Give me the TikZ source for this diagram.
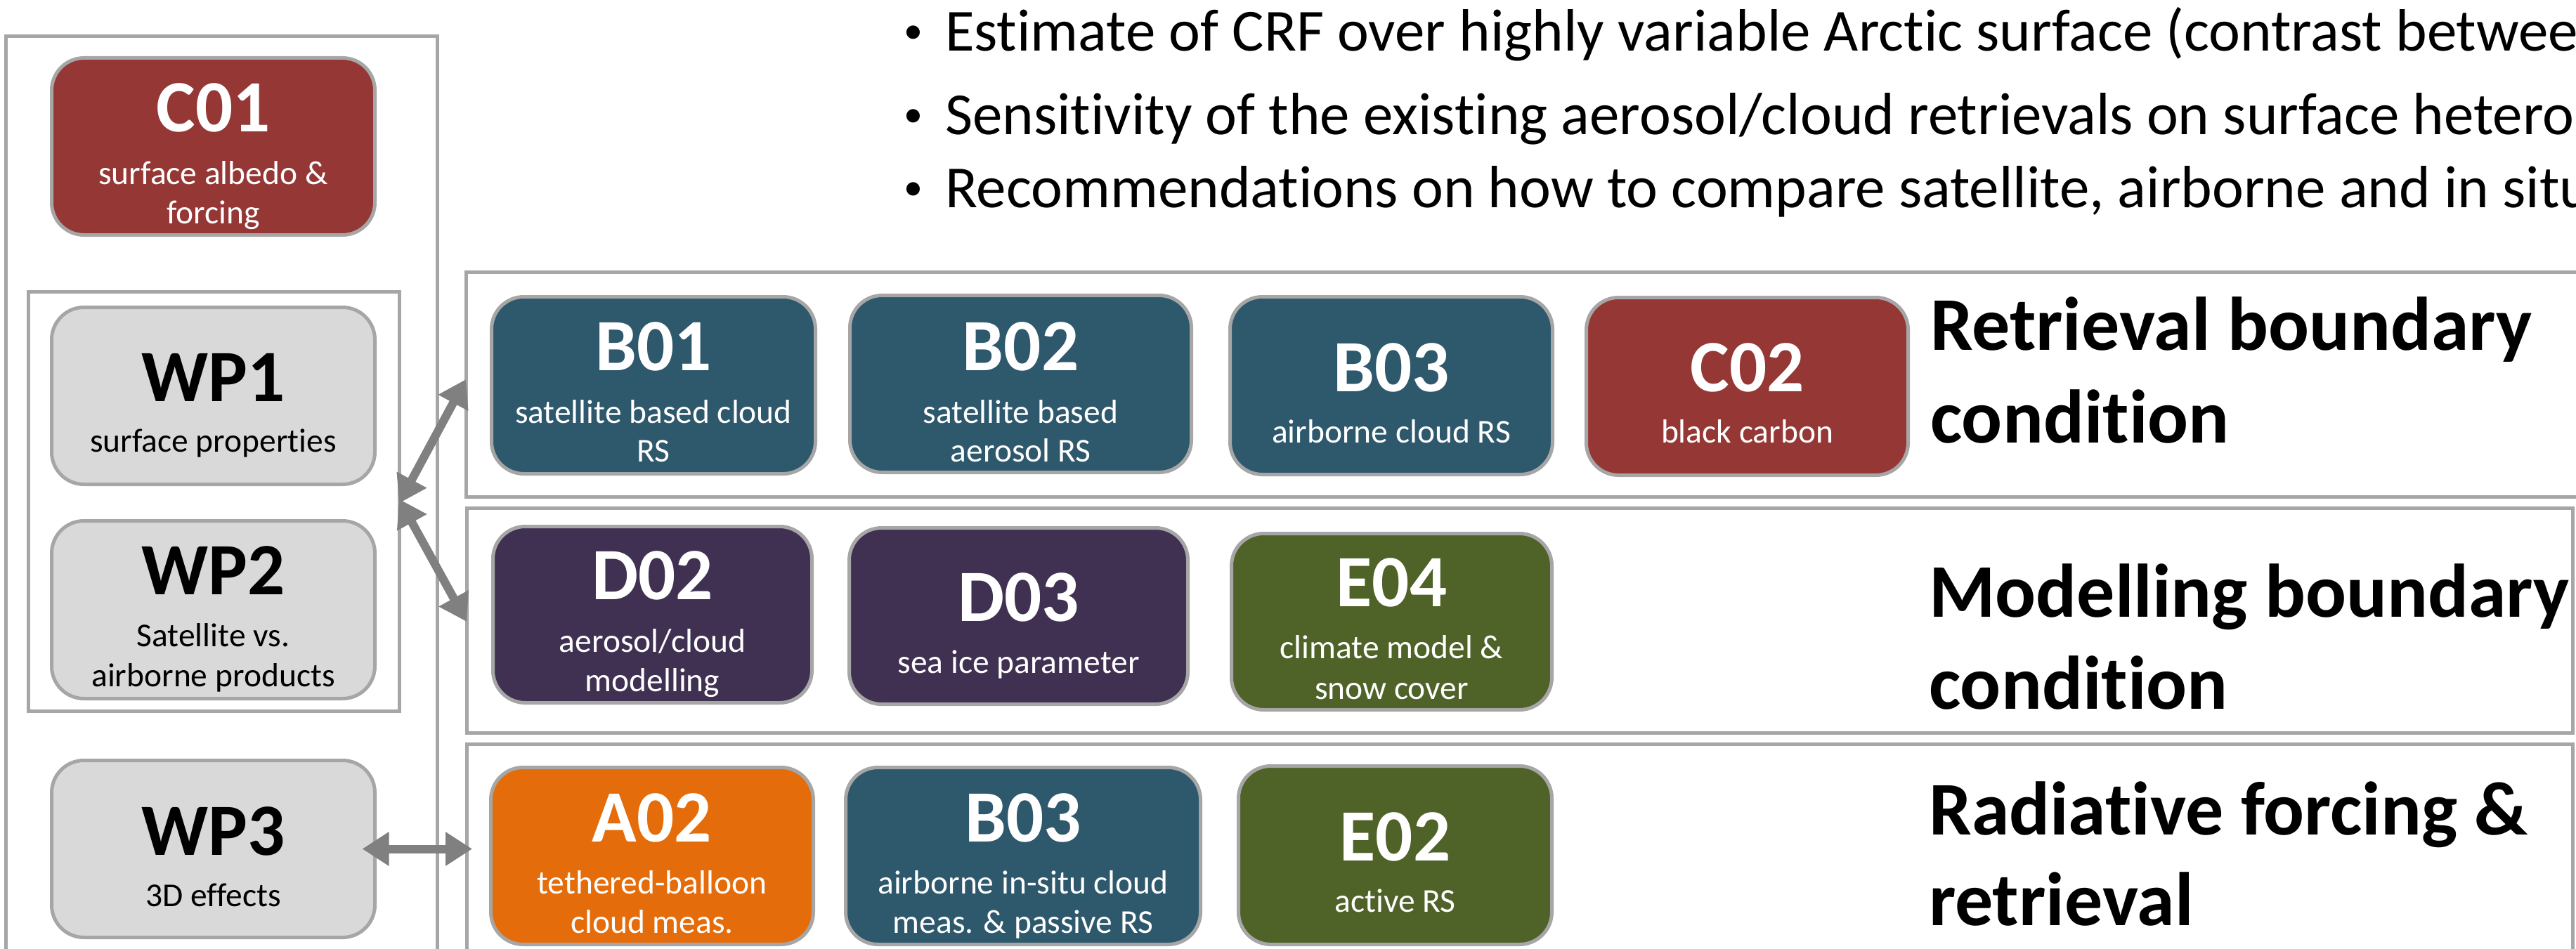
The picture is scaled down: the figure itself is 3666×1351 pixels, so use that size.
\documentclass[tikz,border=0pt]{standalone}
\usepackage{fontspec}
\setmainfont{Carlito}[Ligatures={NoCommon}]
\usetikzlibrary{arrows.meta,calc}
\definecolor{frameg}{HTML}{A6A6A6}
\definecolor{cred}{HTML}{953735}
\definecolor{bteal}{HTML}{2E586C}
\definecolor{dpurp}{HTML}{403152}
\definecolor{eolive}{HTML}{4F6228}
\definecolor{aorange}{HTML}{E46C0A}
\definecolor{wpgray}{HTML}{D9D9D9}
\definecolor{arrowg}{HTML}{808080}
\begin{document}
\begin{tikzpicture}[x=1pt,y=-1pt,
  frame/.style={draw=frameg,line width=5pt,rectangle,inner sep=0pt,outer sep=0pt},
  box/.style={draw=frameg,line width=5pt,rectangle,rounded corners=46pt,inner sep=0pt,outer sep=0pt},
  ttl/.style={anchor=base,inner sep=0pt,font=\fontsize{105}{120}\selectfont\bfseries},
  sub/.style={anchor=base,inner sep=0pt,font=\fontsize{47.5}{57}\selectfont},
  lbl/.style={anchor=base west,inner sep=0pt,font=\fontsize{108}{130}\selectfont\bfseries},
  bul/.style={anchor=base west,inner sep=0pt,font=\fontsize{85}{100}\selectfont},
  bulmark/.style={anchor=base west,inner sep=0pt,font=\fontsize{54}{60}\selectfont},
  dblarrow/.style={draw=arrowg,line width=12pt,{Triangle[width=46pt,length=38pt]}-{Triangle[width=46pt,length=38pt]}}
]
\useasboundingbox (0,0) rectangle (3666,1351);
\clip (0,0) rectangle (3666,1351);

% top bullets
\node[bulmark] (bu1) at (1286,62) {•};
\node[bul] (tx1) at (1345,73) {Estimate of CRF over highly variable Arctic surface (contrast betwee};
\node[bulmark] (bu2) at (1286,181) {•};
\node[bul] (tx2) at (1345,192) {Sensitivity of the existing aerosol/cloud retrievals on surface hetero};
\node[bulmark] (bu3) at (1286,284) {•};
\node[bul] (tx3) at (1345,295) {Recommendations on how to compare satellite, airborne and in situ};

% frames
\node[frame,minimum width=614pt,minimum height=1400pt] (outer) at (315,752) {};
\node[frame,minimum width=528pt,minimum height=597pt] (wpframe) at (304,713.5) {};
\node[frame,minimum width=3057pt,minimum height=320pt] (retframe) at (2191.5,547) {};
\node[frame,minimum width=2997pt,minimum height=320pt] (modframe) at (2162.5,883) {};
\node[frame,minimum width=2997pt,minimum height=400pt] (radframe) at (2162.5,1259) {};

% C01
\node[box,fill=cred,minimum width=460pt,minimum height=252pt] (C01) at (303.5,208.5) {};
\node[ttl,white] (C01t) at (303.5,188) {C01};
\node[sub,white] (C01a) at (303.5,262) {surface albedo \&};
\node[sub,white] (C01b) at (303.5,318) {forcing};

% WP boxes
\node[box,fill=wpgray,minimum width=460pt,minimum height=252pt] (WP1) at (303.5,563.5) {};
\node[ttl] (WP1t) at (303.5,571) {WP1};
\node[sub] (WP1a) at (303.5,643) {surface properties};

\node[box,fill=wpgray,minimum width=460pt,minimum height=253pt] (WP2) at (303.5,868) {};
\node[ttl] (WP2t) at (303.5,846) {WP2};
\node[sub] (WP2a) at (303.5,920) {Satellite vs.};
\node[sub] (WP2b) at (303.5,977) {airborne products};

\node[box,fill=wpgray,minimum width=460pt,minimum height=252pt] (WP3) at (303.5,1208.5) {};
\node[ttl] (WP3t) at (303.5,1217) {WP3};
\node[sub] (WP3a) at (303.5,1290) {3D effects};

% Retrieval row
\node[box,fill=bteal,minimum width=461pt,minimum height=252pt] (B01) at (930,548.5) {};
\node[ttl,white] (B01t) at (930,527) {B01};
\node[sub,white] (B01a) at (930,602) {satellite based cloud};
\node[sub,white] (B01b) at (930,657) {RS};

\node[box,fill=bteal,minimum width=486pt,minimum height=252pt] (B02) at (1452.5,546.5) {};
\node[ttl,white] (B02t) at (1452.5,527) {B02};
\node[sub,white] (B02a) at (1452.5,602) {satellite based};
\node[sub,white] (B02b) at (1452.5,657) {aerosol RS};

\node[box,fill=bteal,minimum width=459pt,minimum height=253pt] (B03) at (1980,549) {};
\node[ttl,white] (B03t) at (1980,557) {B03};
\node[sub,white] (B03a) at (1980,630) {airborne cloud RS};

\node[box,fill=cred,minimum width=458pt,minimum height=253pt] (C02) at (2486.5,550) {};
\node[ttl,white] (C02t) at (2486.5,557) {C02};
\node[sub,white] (C02a) at (2486.5,630) {black carbon};

\node[lbl] (retl1) at (2747,498) {Retrieval boundary};
\node[lbl] (retl2) at (2747,630) {condition};

% Modelling row
\node[box,fill=dpurp,minimum width=454pt,minimum height=251pt] (D02) at (928.5,875) {};
\node[ttl,white] (D02t) at (928.5,853) {D02};
\node[sub,white] (D02a) at (928.5,928) {aerosol/cloud};
\node[sub,white] (D02b) at (928.5,984) {modelling};

\node[box,fill=dpurp,minimum width=482pt,minimum height=251pt] (D03) at (1449.5,877) {};
\node[ttl,white] (D03t) at (1449.5,884) {D03};
\node[sub,white] (D03a) at (1449.5,958) {sea ice parameter};

\node[box,fill=eolive,minimum width=456pt,minimum height=251pt] (E04) at (1980.5,885) {};
\node[ttl,white] (E04t) at (1980.5,863) {E04};
\node[sub,white] (E04a) at (1980.5,937) {climate model \&};
\node[sub,white] (E04b) at (1980.5,995) {snow cover};

\node[lbl] (modl1) at (2745,878) {Modelling boundary};
\node[lbl] (modl2) at (2745,1009) {condition};

% Radiative row
\node[box,fill=aorange,minimum width=459pt,minimum height=252pt] (A02) at (928,1218.5) {};
\node[ttl,white] (A02t) at (928,1198) {A02};
\node[sub,white] (A02a) at (928,1272) {tethered-balloon};
\node[sub,white] (A02b) at (928,1328) {cloud meas.};

\node[box,fill=bteal,minimum width=505pt,minimum height=252pt] (B03r) at (1456,1218.5) {};
\node[ttl,white] (B03rt) at (1456,1198) {B03};
\node[sub,white] (B03ra) at (1456,1272) {airborne in-situ cloud};
\node[sub,white] (B03rb) at (1456,1328) {meas. \& passive RS};

\node[box,fill=eolive,minimum width=446pt,minimum height=254pt] (E02) at (1985.5,1217.5) {};
\node[ttl,white] (E02t) at (1985.5,1225) {E02};
\node[sub,white] (E02a) at (1985.5,1298) {active RS};

\node[lbl] (radl1) at (2745,1188) {Radiative forcing \&};
\node[lbl] (radl2) at (2745,1317) {retrieval};

% arrows
\draw[dblarrow] ([yshift=-3pt]wpframe.east) -- ([yshift=7pt]retframe.west);
\draw[dblarrow] ([yshift=3pt]wpframe.east) -- ([yshift=-2pt]modframe.west);
\draw[dblarrow] ([xshift=-18pt]WP3.east) -- ([xshift=8pt]WP3.east -| radframe.west);
\end{tikzpicture}
\end{document}
